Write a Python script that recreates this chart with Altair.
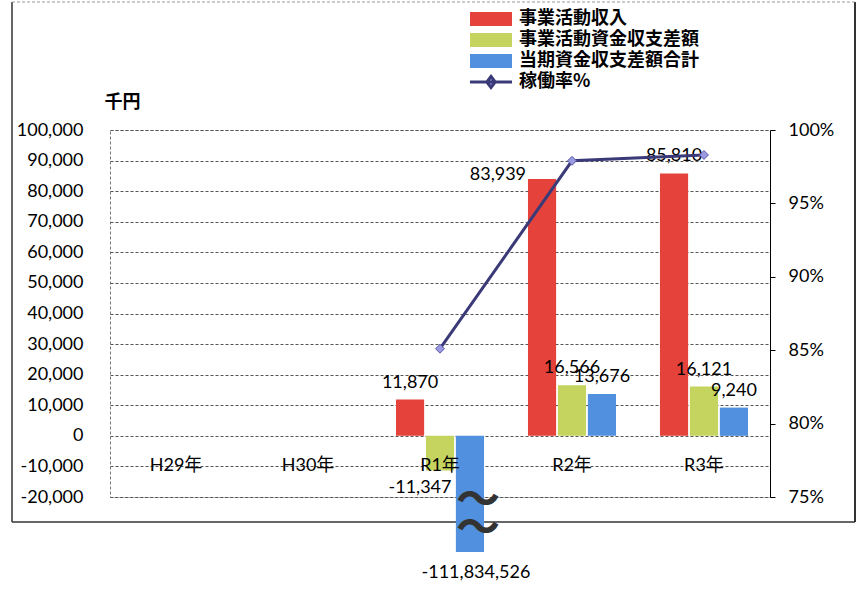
import altair as alt
import pandas as pd

# ---------------- data ----------------
categories = ["H29年", "H30年", "R1年", "R2年", "R3年"]
series = ["事業活動収入", "事業活動資金収支差額", "当期資金収支差額合計"]
income = [None, None, 11870, 83939, 85810]
activity_balance = [None, None, -11347, 16566, 16121]
total_balance = [None, None, -111834526, 13676, 9240]
rate_name = "稼働率%"
operating_rate = [None, None, 85.1, 97.9, 98.3]

# the very large negative bar is drawn broken (cut off) at this value
BREAK_FLOOR = -38000
break_marks = [-21600, -30700]

# placement of the value labels (default: above the bar)
label_place = {
    ("R1年", "事業活動資金収支差額"): "below",
    ("R2年", "事業活動収入"): "left",
    ("R1年", "当期資金収支差額合計"): "broken",
}

rows = []
for s, vals in zip(series, [income, activity_balance, total_balance]):
    for c, v in zip(categories, vals):
        if v is None:
            continue
        rows.append({
            "cat": c, "series": s, "value": v,
            "display": max(v, BREAK_FLOOR),
            "label": f"{v:,}",
            "place": label_place.get((c, s), "above"),
        })
bar_df = pd.DataFrame(rows)

line_df = pd.DataFrame([
    {"cat": c, "rate": r, "name": rate_name}
    for c, r in zip(categories, operating_rate) if r is not None
])

break_df = pd.DataFrame({"cat": ["R1年"] * len(break_marks),
                         "series": [series[2]] * len(break_marks),
                         "display": break_marks})

# ---------------- style ----------------
NUM_FONT = "Lato, 'Noto Sans CJK JP', sans-serif"
JP_FONT = "'Noto Sans CJK JP', sans-serif"
colors = ["#e5423b", "#c4d45f", "#5190de"]

x_enc = alt.X("cat:N", sort=categories,
              scale=alt.Scale(domain=categories, paddingInner=0.333, paddingOuter=0.1667),
              axis=alt.Axis(orient="bottom", offset=-41, domain=False, ticks=False,
                            labelPadding=0, labelAngle=0, labelFont=NUM_FONT,
                            labelFontSize=18, labelColor="black", title=None, grid=False,
                            zindex=2))
xo_enc = alt.XOffset("series:N", sort=series,
                     scale=alt.Scale(domain=series, paddingInner=0.06, paddingOuter=0))
y_left = alt.Y("display:Q",
               scale=alt.Scale(domain=[-20000, 100000], nice=False, zero=True),
               axis=alt.Axis(values=list(range(-20000, 100001, 10000)),
                             labelExpr="replace(format(datum.value, ','), '\u2212', '-')",
                             labelFont=NUM_FONT, labelFontSize=18, labelColor="black",
                             labelPadding=27, ticks=False, domain=False,
                             grid=True, gridColor="#555", gridDash=[3, 2], gridWidth=1,
                             title="千円", titleAngle=0, titleX=12, titleY=-28,
                             titleAlign="center", titleBaseline="middle",
                             titleFont=JP_FONT, titleFontSize=18, titleFontWeight="bold",
                             titleColor="black"))
y_right = alt.Y("rate:Q",
                scale=alt.Scale(domain=[75, 100], nice=False, zero=False),
                axis=alt.Axis(orient="right", values=[75, 80, 85, 90, 95, 100],
                              labelExpr="datum.value + '%'", labelFont=NUM_FONT,
                              labelFontSize=18, labelColor="black", labelPadding=13,
                              ticks=True, tickSize=5, tickColor="black",
                              domain=True, domainColor="black", grid=False, title=None))

one = pd.DataFrame({"a": [0]})
frame_col = "#333"
frame = [
    alt.Chart(one).mark_rule(color=frame_col, strokeWidth=1.5).encode(
        x=alt.value(-98), y=alt.value(-128), y2=alt.value(392)),
    alt.Chart(one).mark_rule(color=frame_col, strokeWidth=1.5).encode(
        x=alt.value(-98), x2=alt.value(745), y=alt.value(392)),
    alt.Chart(one).mark_rule(color=frame_col, strokeWidth=2).encode(
        x=alt.value(745), y=alt.value(-128), y2=alt.value(392)),
    alt.Chart(one).mark_rule(color="#999", strokeWidth=1, strokeDash=[3, 2]).encode(
        x=alt.value(-98), x2=alt.value(745), y=alt.value(-128)),
]

bars = alt.Chart(bar_df).mark_bar().encode(
    x=x_enc, xOffset=xo_enc, y=y_left,
    fill=alt.Fill("series:N", sort=series,
                  scale=alt.Scale(domain=series, range=colors),
                  legend=alt.Legend(title=None, orient="none", legendX=372, legendY=-120,
                                    symbolType="M-3,-1H3V1H-3Z", symbolSize=196,
                                    symbolStrokeWidth=0, labelOffset=19, padding=0,
                                    rowPadding=3, labelFont=JP_FONT, labelFontSize=18,
                                    labelFontWeight="bold", labelColor="black",
                                    labelLimit=400)),
)

def value_text(place, **kw):
    return alt.Chart(bar_df).transform_filter(alt.datum.place == place).mark_text(
        font=NUM_FONT, fontSize=18, color="black", **kw
    ).encode(x=x_enc, xOffset=xo_enc, y=y_left, text="label:N")

texts = [
    value_text("above", baseline="bottom", dy=-8),
    value_text("below", baseline="top", dy=8, dx=-20),
    value_text("left", align="right", baseline="middle", dx=-16, dy=-4),
    value_text("broken", baseline="top", dy=12, dx=6),
]

squiggles = alt.Chart(break_df).mark_text(
    text="〜", font=JP_FONT, fontSize=44, fontWeight="bold", color="#333", dx=8,
    baseline="middle"
).encode(x=x_enc, xOffset=xo_enc, y=y_left)

left = alt.layer(*frame, bars, *texts, squiggles)

line = alt.Chart(line_df).mark_line(strokeWidth=3).encode(
    x=x_enc, y=y_right,
    stroke=alt.Stroke("name:N", scale=alt.Scale(domain=[rate_name], range=["#3b3a78"]),
                      legend=alt.Legend(title=None, orient="none", legendX=372, legendY=-57,
                                        symbolType="M-3,0H3M0,-0.8L0.6,0L0,0.8L-0.6,0Z",
                                        symbolSize=196, symbolStrokeWidth=3,
                                        symbolFillColor="#9a9ae0", labelOffset=19,
                                        padding=0, labelFont=JP_FONT, labelFontSize=18,
                                        labelFontWeight="bold", labelColor="black",
                                        labelLimit=400)),
)
points = alt.Chart(line_df).mark_point(
    shape="diamond", filled=True, size=80, fill="#9a9ae0", stroke="#5b5aa8",
    strokeWidth=1, opacity=1
).encode(x=x_enc, y=y_right)

right = alt.layer(line, points)

chart = alt.layer(left, right).resolve_scale(y="independent").properties(
    width=660, height=367,
    autosize=alt.AutoSizeParams(type="none"),
    padding={"left": 110, "top": 130, "right": 91, "bottom": 100},
    background="white",
).configure_view(stroke="#777", strokeDash=[3, 2])

chart.save("out.html", embed_options={"renderer": "svg", "actions": False})
